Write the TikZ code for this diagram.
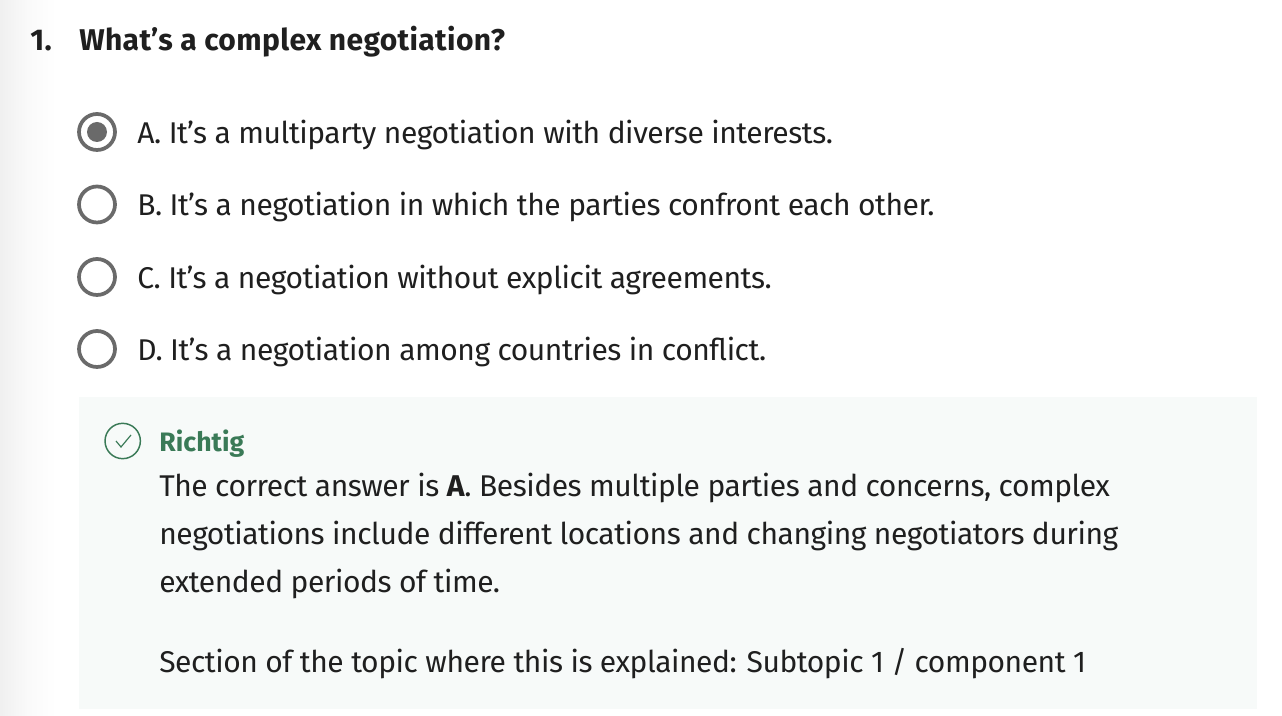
\documentclass[tikz,border=0pt]{standalone}
\usepackage{fontspec}
\setmainfont{Fira Sans}
\newfontfamily\srcf[LetterSpace=-1.55]{Fira Sans}
\newfontfamily\srcb[LetterSpace=1.25]{Fira Sans Bold}
\newfontfamily\srcg[LetterSpace=0.3]{Fira Sans Bold}
\definecolor{ink}{HTML}{1F1F1F}
\definecolor{panel}{HTML}{F7FAF9}
\definecolor{okgreen}{HTML}{3A7A57}
\definecolor{radio}{HTML}{6A6A6A}
\tikzset{
 px/.style={x=0.75pt,y=-0.75pt},
 opt/.style={anchor=base west,inner sep=0,font=\srcf\fontsize{22.5}{27}\selectfont,text=ink},
 head/.style={anchor=base west,inner sep=0,font=\srcb\fontsize{22.5}{27}\selectfont,text=ink},
 radiobtn/.style={circle,draw=radio,line width=2.8pt,minimum size=27pt,inner sep=0,fill=white},
}
\begin{document}
\begin{tikzpicture}[px]
\useasboundingbox (0,0) rectangle (1282,716);
\fill[white] (0,0) rectangle (1282,716);
\shade[left color=black!6,right color=white,middle color=black!2] (0,0) rectangle (56,716);
\node[head] (num) at (30,51) {1.};
\node[head] (q) at (79,51) {What’s a complex negotiation?};
\node[radiobtn] (ra) at (97,132) {};
\node[circle,fill=radio,minimum size=15pt,inner sep=0] (rad) at (97,132) {};
\node[radiobtn] (rb) at (97,204.5) {};
\node[radiobtn] (rc) at (97,277) {};
\node[radiobtn] (rd) at (97,349) {};
\node[opt] (a) at (137,144) {A. It’s a multiparty negotiation with diverse interests.};
\node[opt] (b) at (137,216) {B. It’s a negotiation in which the parties confront each other.};
\node[opt] (c) at (137,289) {C. It’s a negotiation without explicit agreements.};
\node[opt] (d) at (137,361) {D. It’s a negotiation among countries in conflict.};
\fill[panel] (79,397) rectangle (1257,709);
\node[circle,draw=okgreen,line width=1.1pt,minimum size=26.5pt,inner sep=0] (ck) at (122.7,441) {};
\draw[okgreen,line width=0.9pt] (116,441) -- (121,447) -- (131,435);
\node[anchor=base west,inner sep=0,text=okgreen,font=\srcg\fontsize{20}{24}\selectfont] (r) at (159,452) {Richtig};
\node[opt] (l1) at (159,496.6) {The correct answer is {\srcb A}. Besides multiple parties and concerns, complex};
\node[opt] (l2) at (159,544) {negotiations include different locations and changing negotiators during};
\node[opt] (l3) at (159,592) {extended periods of time.};
\node[opt] (l4) at (159,672) {Section of the topic where this is explained: Subtopic 1 / component 1};
\end{tikzpicture}
\end{document}
